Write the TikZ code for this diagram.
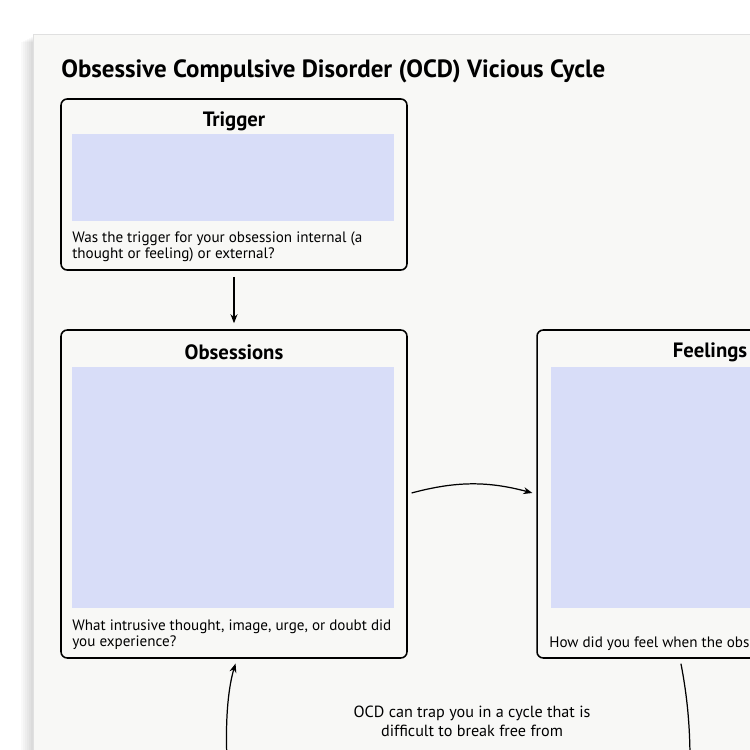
\documentclass[tikz,border=0pt]{standalone}
\usepackage{fontspec}
\setmainfont{PT Sans}
\usepackage{tikz}
\usetikzlibrary{arrows.meta,positioning,calc}

\definecolor{pagebg}{RGB}{248,248,246}
\definecolor{fieldblue}{RGB}{216,221,248}

\begin{document}
\begin{tikzpicture}[x=0.02cm, y=-0.02cm,
  card/.style={draw, line width=0.9pt, rounded corners=3.5pt, minimum width=6.92cm, inner sep=0pt},
  field/.style={fill=fieldblue, minimum width=6.44cm, inner sep=0pt},
  boxtitle/.style={font=\bfseries\fontsize{11.8}{13}\selectfont},
  prompt/.style={font=\fontsize{8.6}{9.6}\selectfont, align=left, anchor=north west, inner sep=0pt},
  flow/.style={line width=0.7pt, -{Stealth[length=1.8mm,width=1.4mm]}}]
  \useasboundingbox (0,0) rectangle (750,750);
  \clip (0,0) rectangle (750,750);

  % sheet of paper with a soft shadow
  \fill[white] (0,0) rectangle (750,750);
  \foreach \i in {1,...,6}{
    \fill[black, opacity=0.025] (33-2*\i,36+\i) rectangle (800,800);
  }
  \fill[pagebg] (33,34) rectangle (800,800);
  \draw[black!12] (33,800) -- (33,34) -- (800,34);

  \node[anchor=base west, font=\bfseries\fontsize{14.2}{16}\selectfont, inner sep=0pt] (title) at (61,78)
    {Obsessive Compulsive Disorder (OCD) Vicious Cycle};

  % the three boxes
  \node[card, minimum height=3.42cm] (trig) at (234,184.5) {};
  \node[card, minimum height=6.56cm] (obs)  at (234,494) {};
  \node[card, minimum height=6.56cm] (feel) at (710,494) {};

  \node[boxtitle] (trigT) at (234,121) {Trigger};
  \node[boxtitle] (obsT)  at (234,352) {Obsessions};
  \node[boxtitle] (feelT) at (710,352) {Feelings};

  \node[field, minimum height=1.74cm] (trigF) at (233,177.5) {};
  \node[field, minimum height=4.82cm] (obsF)  at (233,487.5) {};
  \node[field, minimum height=4.82cm] (feelF) at (712,487.5) {};

  \node[prompt] (trigQ) at (72,231) {Was the trigger for your obsession internal (a\\thought or feeling) or external?};
  \node[prompt] (obsQ)  at (72,619) {What intrusive thought, image, urge, or doubt did\\you experience?};
  \node[prompt] (feelQ) at (549,636) {How did you feel when the obsession};

  % connectors
  \draw[flow, shorten <=0.12cm, shorten >=0.12cm] (trig.south) -- (obs.north);
  \draw[flow, shorten <=0.08cm, shorten >=0.08cm] (obs.east) to[bend left=15] (feel.west);

  \coordinate (loopL) at (227,760);
  \coordinate (loopR) at (690,760);
  \draw[flow, shorten >=0.1cm] (loopL) .. controls (225,715) and (229,685) .. ($(obs.south)+(3,0)$);
  \draw[line width=0.7pt, shorten <=0.1cm] ($(feel.south)+(-30,0)$) .. controls (686,690) and (690,720) .. (loopR);

  \node[font=\fontsize{9.2}{11}\selectfont, align=center] (note) at (472,721)
    {OCD can trap you in a cycle that is\\difficult to break free from};
\end{tikzpicture}
\end{document}
